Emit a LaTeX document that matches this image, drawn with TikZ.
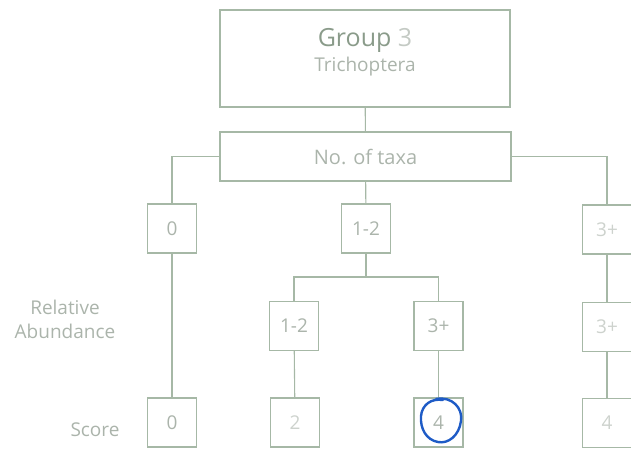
\documentclass[tikz,border=0pt]{standalone}
\usepackage{fontspec}
\setmainfont{Open Sans}
\definecolor{boxline}{HTML}{A6B8A6}
\definecolor{boxtext}{HTML}{ABB4AB}
\definecolor{headtext}{HTML}{8A9B8A}
\definecolor{pen}{HTML}{1E5BC6}
\begin{document}
\begin{tikzpicture}[x=1pt, y=-1pt,
		box/.style={draw=boxline, line width=1.1pt, minimum width=49pt, minimum height=49pt, inner sep=0pt, text=boxtext, font=\fontsize{19}{22}\selectfont},
		link/.style={draw=boxline, line width=1.1pt},
		side/.style={text=boxtext, font=\fontsize{19}{24}\selectfont, align=center}]
		\useasboundingbox (0,0) rectangle (631,448);
		
		% Define group and taxa count
		\node[box, minimum width=290pt, minimum height=97pt] (GroupBox) at (365,58.5) {};
		\node[text=headtext, font=\fontsize{25}{28}\selectfont] (GroupName) at (365,40) {Group \textcolor{boxtext!70}{3}};
		\node[text=boxtext, font=\fontsize{19}{22}\selectfont] (GroupOrder) at (365,67) {Trichoptera};
		\node[box, minimum width=291pt, font=\fontsize{20}{22}\selectfont] (TaxaBox) at (365.5,156.5) {No. of taxa};
		
		\draw[link] (GroupBox) -- (TaxaBox);
		
		% Define 0 1-2 3+
		\node[box] (Taxa0) at (172,228.5) {0};
		\node[box] (Taxa12) at (366,228.5) {1-2};
		\node[box, text=boxtext!60] (Taxa3) at (607,229.5) {3+};
		
		\draw[link] (TaxaBox.west) -| (Taxa0.north);
		\draw[link] (TaxaBox.east) -| (Taxa3.north);
		\draw[link] (TaxaBox) -- (Taxa12);
		
		% Define relative abundance
		\node[side] (RelLabel) at (65,319.5) {Relative\\Abundance};
		\node[box] (Abund12) at (294,326) {1-2};
		\node[box] (Abund3) at (438.5,326) {3+};
		\node[box, text=boxtext!60] (Abund3R) at (607,327) {3+};
		\coordinate (Split12) at (366,277);
		
		\draw[link] (Taxa12) -- (Split12);
		\draw[link] (Split12) -| (Abund12.north);
		\draw[link] (Split12) -| (Abund3.north);
		\draw[link] (Taxa3) -- (Abund3R);
		
		% Define score
		\node[side] (ScoreLabel) at (95,430) {Score};
		\node[box] (Score0) at (172,422.5) {0};
		\node[box, text=boxtext!60] (Score2) at (295,422.5) {2};
		\node[box] (Score4) at (438.5,422.5) {4};
		\node[box, text=boxtext!60] (Score4R) at (607,423) {4};
		
		\draw[link] (Taxa0) -- (Score0);
		\draw[link] (Abund12) -- (Score2);
		\draw[link] (Abund3) -- (Score4);
		\draw[link] (Abund3R) -- (Score4R);
		
		% Pen mark on the picked score
		\draw[pen, line width=2.4pt, line cap=round]
			(436,399) .. controls (452,396) and (463,408) .. (461,421)
			.. controls (459,436) and (448,444) .. (438,442)
			.. controls (426,440) and (420,428) .. (421,416)
			.. controls (422,405) and (431,398) .. (443,400);
	\end{tikzpicture}
\end{document}
